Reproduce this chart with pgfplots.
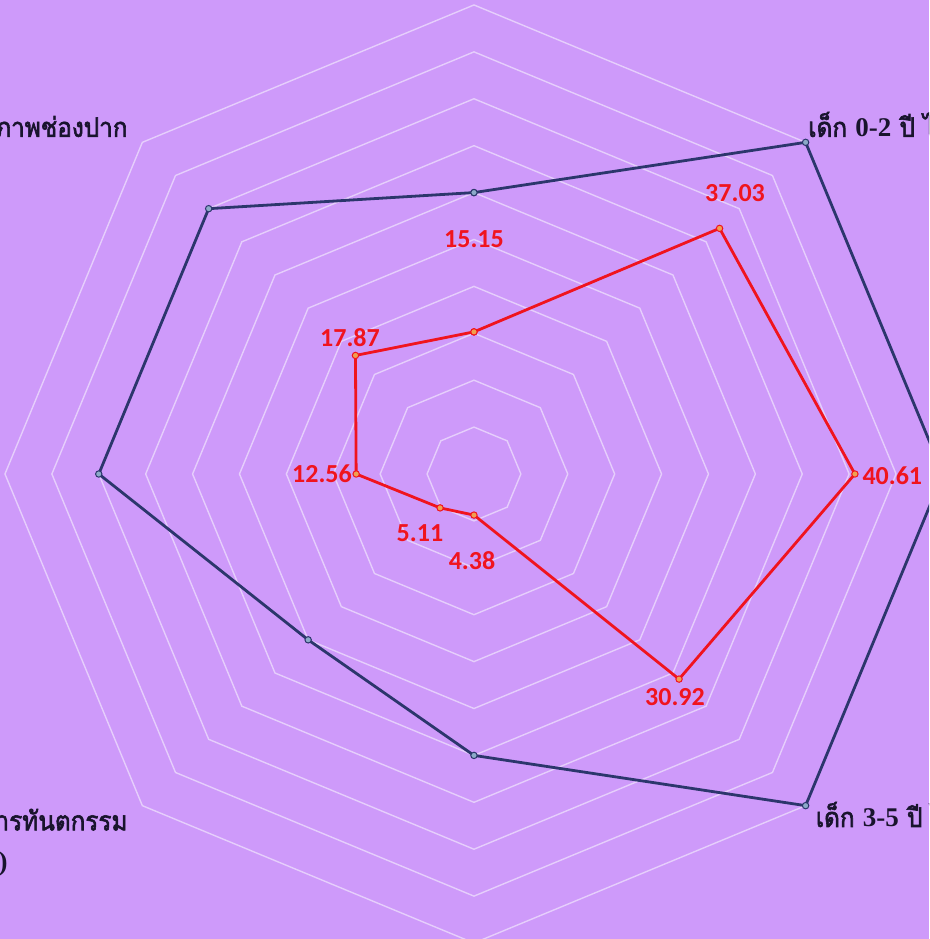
\documentclass[border=0pt]{standalone}
\usepackage{pgfplots}
\pgfplotsset{compat=1.18}
\usepackage{fontspec}
\newfontfamily\thaifont[Script=Thai, FakeBold=2.2, FakeStretch=0.9]{Loma}
\newfontfamily\latfont{Liberation Serif}
\newfontfamily\numfont{Carlito}
\definecolor{bgpurple}{RGB}{206,154,250}
\definecolor{ringcol}{RGB}{230,206,252}
\definecolor{navy}{RGB}{44,54,108}
\definecolor{navydot}{RGB}{140,170,200}
\definecolor{redline}{RGB}{240,20,30}
\definecolor{reddot}{RGB}{240,160,80}
\definecolor{labtext}{RGB}{25,20,45}
\tikzset{
    lbl/.style={font=\numfont\bfseries\fontsize{13}{15}\selectfont, text=redline, inner sep=0pt},
    cat/.style={font=\thaifont\fontsize{13.5}{16}\selectfont, text=labtext, inner sep=0pt},
}
\newcommand{\lt}[1]{{\latfont\bfseries #1}}
\begin{document}
\begin{tikzpicture}
\begin{axis}[
    scale only axis,
    width=464.5pt, height=469.5pt,
    xmin=-50.53, xmax=48.51,
    ymin=-49.57, ymax=50.53,
    axis line style={draw=none},
    xtick=\empty, ytick=\empty,
    axis background/.style={fill=bgpurple},
    clip=true,
]
% octagonal grid rings, 5 to 50
\pgfplotsinvokeforeach{5,10,15,20,25,30,35,40,45,50}{
    \addplot[ringcol, line width=0.7pt, data cs=polar, mark=none]
        coordinates {(0,#1) (45,#1) (90,#1) (135,#1) (180,#1) (225,#1) (270,#1) (315,#1) (360,#1)};
}
% outer series
\addplot[navy, line width=1.4pt, data cs=polar, mark=*, mark size=1.6pt,
    mark options={fill=navydot, draw=navy, line width=0.5pt}]
    coordinates {(90,30) (45,50) (0,50) (-45,50) (-90,30) (-135,25) (180,40) (135,40) (90,30)};
% inner series
\addplot[redline, line width=1.4pt, data cs=polar, mark=*, mark size=1.6pt,
    mark options={fill=reddot, draw=redline, line width=0.5pt}]
    coordinates {(90,15.15) (45,37.03) (0,40.61) (-45,30.92) (-90,4.38) (-135,5.11) (180,12.56) (135,17.87) (90,15.15)};
% value labels
\node[lbl] at (axis cs:0,25.05) {15.15};
\node[lbl] at (axis cs:27.83,29.96) {37.03};
\node[lbl] at (axis cs:44.6,-0.21) {40.61};
\node[lbl] at (axis cs:21.43,-23.77) {30.92};
\node[lbl] at (axis cs:-0.21,-9.28) {4.38};
\node[lbl] at (axis cs:-5.76,-6.29) {5.11};
\node[lbl] at (axis cs:-16.2,0) {12.56};
\node[lbl] at (axis cs:-13.22,14.5) {17.87};
% category labels (cut by the frame)
\node[cat, anchor=west] at (axis cs:35.6,36.89) {เด็ก \lt{0-2} ปี ได้รับการตรวจสุขภาพช่องปาก};
\node[cat, anchor=west] at (axis cs:36.4,-36.67) {เด็ก \lt{3-5} ปี ได้รับการตรวจสุขภาพช่องปาก};
\node[cat, anchor=east] at (axis cs:-36.89,36.89) {ร้อยละเด็กได้รับการตรวจสุขภาพช่องปาก};
\node[cat, anchor=east] at (axis cs:-36.89,-36.67) {ร้อยละเด็กได้รับบริการทันตกรรม};
\node[cat, anchor=east] at (axis cs:-49.68,-41.36) {\lt{(}ร้อยละ\lt{)}};
\end{axis}
\end{tikzpicture}
\end{document}
